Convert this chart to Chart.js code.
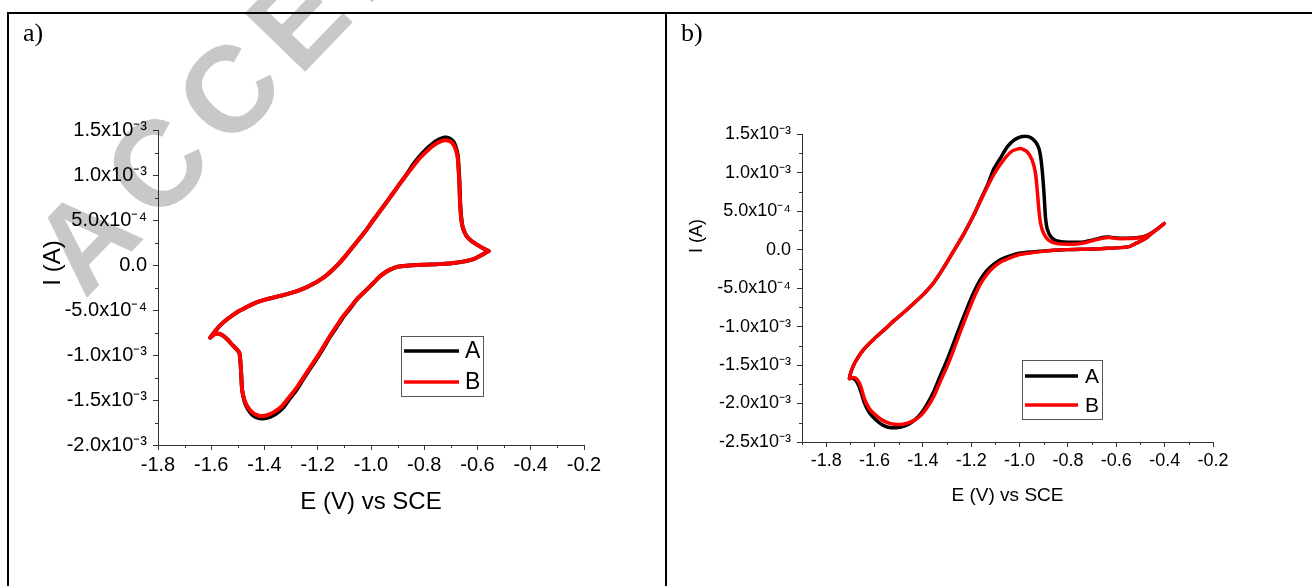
<!DOCTYPE html>
<html>
<head>
<meta charset="utf-8">
<script src="https://cdn.jsdelivr.net/npm/chart.js@4.4.1/dist/chart.umd.min.js"></script>
<style>
  html, body { margin: 0; padding: 0; background: #fff; }
  #page { position: relative; width: 1312px; height: 586px; overflow: hidden; }
  canvas { position: absolute; top: 0; }
  #cvA { left: 0; }
  #cvB { left: 667px; }
  .rule { position: absolute; background: #000; z-index: 2; }
</style>
</head>
<body>
<div id="page">
  <canvas id="cvA" width="665" height="586"></canvas>
  <canvas id="cvB" width="645" height="586"></canvas>
  <div class="rule" style="left:7px;top:12px;width:1305px;height:2px"></div>
  <div class="rule" style="left:7px;top:12px;width:2px;height:574px"></div>
  <div class="rule" style="left:665px;top:12px;width:2px;height:574px"></div>
</div>
<script>
// ---- panel a) : potential (V) and current (A) ----
// one loop: right vertex -> lower branch -> left vertex -> upper branch
const aE = [
  -0.558, -0.618, -0.681, -0.743, -0.806, -0.868, -0.899, -0.924, -0.943, -0.968,
  -0.993, -1.018, -1.050, -1.081, -1.106, -1.131, -1.156, -1.181, -1.206, -1.231,
  -1.256, -1.281, -1.306, -1.331, -1.356, -1.381, -1.406, -1.425, -1.444, -1.462,
  -1.475, -1.484, -1.487, -1.490, -1.494, -1.504, -1.519, -1.537, -1.556, -1.571,
  -1.587, -1.604,
  -1.587, -1.569, -1.544, -1.519, -1.494, -1.469, -1.444, -1.419, -1.394, -1.369,
  -1.344, -1.318, -1.293, -1.268, -1.243, -1.218, -1.193, -1.168, -1.143, -1.118,
  -1.093, -1.068, -1.043, -1.018, -0.993, -0.968, -0.943, -0.918, -0.893, -0.868,
  -0.843, -0.818, -0.793, -0.768, -0.743, -0.724, -0.706, -0.691, -0.681, -0.674,
  -0.671, -0.668, -0.666, -0.662, -0.656, -0.643, -0.624, -0.599, -0.574, -0.558
];
const aIA = [
  0.156e-3, 0.063e-3, 0.026e-3, 0.011e-3, 0.004e-3, -0.007e-3, -0.019e-3, -0.044e-3, -0.074e-3, -0.130e-3,
  -0.204e-3, -0.278e-3, -0.370e-3, -0.490e-3, -0.585e-3, -0.697e-3, -0.808e-3, -0.932e-3, -1.050e-3, -1.160e-3,
  -1.275e-3, -1.392e-3, -1.487e-3, -1.588e-3, -1.652e-3, -1.690e-3, -1.706e-3, -1.699e-3, -1.668e-3, -1.603e-3,
  -1.515e-3, -1.389e-3, -1.241e-3, -1.093e-3, -0.981e-3, -0.937e-3, -0.893e-3, -0.833e-3, -0.785e-3, -0.763e-3,
  -0.767e-3, -0.807e-3,
  -0.741e-3, -0.678e-3, -0.611e-3, -0.556e-3, -0.507e-3, -0.470e-3, -0.433e-3, -0.404e-3, -0.381e-3, -0.363e-3,
  -0.344e-3, -0.326e-3, -0.304e-3, -0.278e-3, -0.248e-3, -0.211e-3, -0.167e-3, -0.115e-3, -0.048e-3, 0.026e-3,
  0.111e-3, 0.204e-3, 0.296e-3, 0.389e-3, 0.493e-3, 0.593e-3, 0.693e-3, 0.796e-3, 0.900e-3, 1.000e-3,
  1.115e-3, 1.208e-3, 1.286e-3, 1.352e-3, 1.398e-3, 1.419e-3, 1.411e-3, 1.374e-3, 1.307e-3, 1.220e-3,
  1.095e-3, 0.945e-3, 0.755e-3, 0.560e-3, 0.426e-3, 0.333e-3, 0.270e-3, 0.222e-3, 0.178e-3, 0.156e-3
];
const aIB = [
  0.156e-3, 0.063e-3, 0.026e-3, 0.011e-3, 0.004e-3, -0.007e-3, -0.019e-3, -0.044e-3, -0.074e-3, -0.130e-3,
  -0.204e-3, -0.278e-3, -0.370e-3, -0.481e-3, -0.574e-3, -0.685e-3, -0.796e-3, -0.919e-3, -1.037e-3, -1.148e-3,
  -1.259e-3, -1.370e-3, -1.463e-3, -1.556e-3, -1.619e-3, -1.659e-3, -1.678e-3, -1.670e-3, -1.641e-3, -1.581e-3,
  -1.500e-3, -1.389e-3, -1.241e-3, -1.093e-3, -0.981e-3, -0.937e-3, -0.893e-3, -0.833e-3, -0.785e-3, -0.763e-3,
  -0.767e-3, -0.807e-3,
  -0.741e-3, -0.678e-3, -0.611e-3, -0.556e-3, -0.507e-3, -0.470e-3, -0.433e-3, -0.404e-3, -0.381e-3, -0.363e-3,
  -0.344e-3, -0.326e-3, -0.304e-3, -0.278e-3, -0.248e-3, -0.211e-3, -0.167e-3, -0.115e-3, -0.048e-3, 0.026e-3,
  0.111e-3, 0.204e-3, 0.296e-3, 0.389e-3, 0.493e-3, 0.593e-3, 0.693e-3, 0.796e-3, 0.900e-3, 1.000e-3,
  1.093e-3, 1.185e-3, 1.259e-3, 1.326e-3, 1.370e-3, 1.389e-3, 1.381e-3, 1.344e-3, 1.278e-3, 1.185e-3,
  1.056e-3, 0.907e-3, 0.722e-3, 0.537e-3, 0.426e-3, 0.333e-3, 0.270e-3, 0.222e-3, 0.178e-3, 0.156e-3
];

// ---- panel b) ----
const bEA = [
  -0.402, -0.446, -0.480, -0.515, -0.542, -0.584, -0.638, -0.693, -0.748, -0.803,
  -0.858, -0.913, -0.955, -0.996, -1.037, -1.078, -1.106, -1.133, -1.161, -1.188,
  -1.216, -1.243, -1.271, -1.298, -1.326, -1.353, -1.381, -1.408, -1.436, -1.463,
  -1.491, -1.532, -1.566, -1.594, -1.621, -1.642, -1.656, -1.667, -1.680, -1.694,
  -1.704,
  -1.690, -1.669, -1.642, -1.601, -1.559, -1.518, -1.477, -1.436, -1.395, -1.353,
  -1.312, -1.271, -1.230, -1.188, -1.161, -1.133, -1.106, -1.078, -1.051, -1.023,
  -0.996, -0.975, -0.955, -0.934, -0.920, -0.911, -0.904, -0.898, -0.893, -0.886,
  -0.872, -0.852, -0.817, -0.776, -0.735, -0.693, -0.652, -0.625, -0.597, -0.556,
  -0.515, -0.480, -0.446, -0.402
];
const bIA = [
  0.338e-3, 0.230e-3, 0.143e-3, 0.087e-3, 0.043e-3, 0.026e-3, 0.017e-3, 0.009e-3, 0.004e-3, 0.000,
  -0.009e-3, -0.020e-3, -0.030e-3, -0.045e-3, -0.080e-3, -0.130e-3, -0.188e-3, -0.265e-3, -0.385e-3, -0.545e-3,
  -0.750e-3, -0.965e-3, -1.200e-3, -1.420e-3, -1.625e-3, -1.830e-3, -2.000e-3, -2.130e-3, -2.220e-3, -2.275e-3,
  -2.305e-3, -2.315e-3, -2.280e-3, -2.215e-3, -2.120e-3, -1.990e-3, -1.850e-3, -1.755e-3, -1.690e-3, -1.668e-3,
  -1.677e-3,
  -1.526e-3, -1.404e-3, -1.287e-3, -1.157e-3, -1.040e-3, -0.919e-3, -0.811e-3, -0.694e-3, -0.572e-3, -0.420e-3,
  -0.225e-3, -0.009e-3, 0.208e-3, 0.459e-3, 0.650e-3, 0.837e-3, 1.053e-3, 1.196e-3, 1.335e-3, 1.422e-3,
  1.465e-3, 1.474e-3, 1.456e-3, 1.400e-3, 1.313e-3, 1.162e-3, 0.945e-3, 0.685e-3, 0.425e-3, 0.273e-3,
  0.173e-3, 0.121e-3, 0.100e-3, 0.095e-3, 0.100e-3, 0.128e-3, 0.160e-3, 0.162e-3, 0.150e-3, 0.148e-3,
  0.155e-3, 0.176e-3, 0.232e-3, 0.338e-3
];
const bEB = [
  -0.402, -0.446, -0.480, -0.515, -0.542, -0.584, -0.638, -0.693, -0.748, -0.803,
  -0.858, -0.913, -0.955, -0.996, -1.037, -1.078, -1.106, -1.133, -1.161, -1.188,
  -1.216, -1.243, -1.271, -1.298, -1.326, -1.353, -1.381, -1.408, -1.436, -1.463,
  -1.491, -1.532, -1.566, -1.594, -1.621, -1.642, -1.656, -1.667, -1.680, -1.694,
  -1.704,
  -1.690, -1.669, -1.642, -1.601, -1.559, -1.518, -1.477, -1.436, -1.395, -1.353,
  -1.312, -1.271, -1.230, -1.188, -1.147, -1.106, -1.065, -1.030, -0.996, -0.968,
  -0.948, -0.934, -0.927, -0.920, -0.913, -0.900, -0.879, -0.845, -0.790, -0.735,
  -0.693, -0.652, -0.625, -0.597, -0.556, -0.515, -0.480, -0.446, -0.402
];
const bIB = [
  0.338e-3, 0.230e-3, 0.143e-3, 0.087e-3, 0.043e-3, 0.026e-3, 0.017e-3, 0.009e-3, 0.004e-3, 0.000,
  -0.009e-3, -0.026e-3, -0.043e-3, -0.061e-3, -0.104e-3, -0.160e-3, -0.225e-3, -0.312e-3, -0.442e-3, -0.616e-3,
  -0.832e-3, -1.049e-3, -1.287e-3, -1.504e-3, -1.699e-3, -1.894e-3, -2.046e-3, -2.154e-3, -2.219e-3, -2.254e-3,
  -2.271e-3, -2.263e-3, -2.219e-3, -2.154e-3, -2.068e-3, -1.938e-3, -1.786e-3, -1.708e-3, -1.665e-3, -1.665e-3,
  -1.677e-3,
  -1.526e-3, -1.404e-3, -1.287e-3, -1.157e-3, -1.040e-3, -0.919e-3, -0.811e-3, -0.694e-3, -0.572e-3, -0.420e-3,
  -0.225e-3, -0.009e-3, 0.208e-3, 0.459e-3, 0.728e-3, 0.980e-3, 1.170e-3, 1.283e-3, 1.313e-3, 1.270e-3,
  1.162e-3, 0.988e-3, 0.772e-3, 0.511e-3, 0.338e-3, 0.208e-3, 0.121e-3, 0.078e-3, 0.069e-3, 0.087e-3,
  0.121e-3, 0.152e-3, 0.156e-3, 0.143e-3, 0.143e-3, 0.152e-3, 0.173e-3, 0.230e-3, 0.338e-3
];

// ---- ticks and names ----
const seriesNames = ['A', 'B'];
const xTicks = [-1.8, -1.6, -1.4, -1.2, -1.0, -0.8, -0.6, -0.4, -0.2];
const aYTicks = [-2.0e-3, -1.5e-3, -1.0e-3, -5.0e-4, 0, 5.0e-4, 1.0e-3, 1.5e-3];
const aYLabels = ['-2.0x10⁻³', '-1.5x10⁻³', '-1.0x10⁻³', '-5.0x10⁻⁴', '0.0', '5.0x10⁻⁴', '1.0x10⁻³', '1.5x10⁻³'];
const bYTicks = [-2.5e-3, -2.0e-3, -1.5e-3, -1.0e-3, -5.0e-4, 0, 5.0e-4, 1.0e-3, 1.5e-3];
const bYLabels = ['-2.5x10⁻³', '-2.0x10⁻³', '-1.5x10⁻³', '-1.0x10⁻³', '-5.0x10⁻⁴', '0.0', '5.0x10⁻⁴', '1.0x10⁻³', '1.5x10⁻³'];

const SANS = "'Liberation Sans', Arial, sans-serif";
const AXIS = '#333';

function pts(E, I) {
  return E.map((e, i) => ({ x: e, y: I[i] }));
}

// short unlabeled ticks between the major ones
const minorTicks = {
  id: 'minorTicks',
  afterDraw(chart, args, o) {
    const ctx = chart.ctx;
    ctx.save();
    ctx.strokeStyle = AXIS;
    ctx.lineWidth = 1;
    for (const id of ['x', 'y']) {
      const s = chart.scales[id];
      const step = o[id];
      const majors = s.ticks.map(t => t.value);
      const n = Math.round((s.max - s.min) / step);
      for (let k = 0; k <= n; k++) {
        const v = s.min + k * step;
        if (majors.some(m => Math.abs(m - v) < step / 10)) continue;
        const p = Math.round(s.getPixelForValue(v)) + 0.5;
        ctx.beginPath();
        if (id === 'x') { ctx.moveTo(p, s.top); ctx.lineTo(p, s.top + o.len); }
        else { ctx.moveTo(s.right, p); ctx.lineTo(s.right - o.len, p); }
        ctx.stroke();
      }
    }
    ctx.restore();
  }
};

// y axis title, placed where the original has it
const sideTitle = {
  id: 'sideTitle',
  afterDraw(chart, args, o) {
    const ctx = chart.ctx;
    ctx.save();
    ctx.translate(o.x, o.y);
    ctx.rotate(-Math.PI / 2);
    ctx.font = o.font;
    ctx.fillStyle = '#000';
    ctx.textAlign = 'center';
    ctx.textBaseline = 'middle';
    ctx.fillText(o.text, 0, 0);
    ctx.restore();
  }
};

// framed legend inside the plot
const boxLegend = {
  id: 'boxLegend',
  afterDraw(chart, args, o) {
    const ctx = chart.ctx;
    ctx.save();
    ctx.fillStyle = '#fff';
    ctx.fillRect(o.x, o.y, o.w, o.h);
    ctx.strokeStyle = '#555';
    ctx.lineWidth = 1;
    ctx.strokeRect(o.x + 0.5, o.y + 0.5, o.w, o.h);
    ctx.font = o.font;
    ctx.textBaseline = 'middle';
    ctx.textAlign = 'left';
    chart.data.datasets.forEach((ds, i) => {
      const y = o.y + o.first + i * o.gap;
      ctx.strokeStyle = ds.borderColor;
      ctx.lineWidth = o.lineWidth;
      ctx.beginPath();
      ctx.moveTo(o.x + 3, y);
      ctx.lineTo(o.x + 3 + o.len, y);
      ctx.stroke();
      ctx.fillStyle = '#000';
      ctx.fillText(ds.label, o.x + o.textX, y + 1);
    });
    ctx.restore();
  }
};

// grey diagonal watermark of the manuscript
const watermark = {
  id: 'watermark',
  beforeDraw(chart, args, o) {
    if (!o.text) return;
    const ctx = chart.ctx;
    ctx.save();
    ctx.translate(o.x, o.y);
    ctx.rotate(o.angle * Math.PI / 180);
    ctx.font = o.font;
    ctx.fillStyle = o.color;
    ctx.textBaseline = 'alphabetic';
    let x = -ctx.measureText(o.text[0]).width / 2;
    for (const ch of o.text) {
      ctx.fillText(ch, x, o.cap / 2);
      x += ctx.measureText(ch).width + o.spacing;
    }
    ctx.restore();
  }
};

function makeChart(id, c) {
  return new Chart(document.getElementById(id), {
    type: 'scatter',
    data: {
      datasets: [
        { label: seriesNames[0], data: c.A, borderColor: '#000000', order: 1 },
        { label: seriesNames[1], data: c.B, borderColor: '#ff0000', order: 0 }
      ]
    },
    options: {
      responsive: false,
      animation: false,
      devicePixelRatio: 1,
      showLine: true,
      layout: { padding: { left: c.padLeft, right: c.padRight, top: 0, bottom: 0 } },
      elements: {
        point: { radius: 0, hoverRadius: 0 },
        line: { borderWidth: c.lw, tension: 0.2, fill: false, borderJoinStyle: 'round', borderCapStyle: 'round' }
      },
      scales: {
        x: {
          type: 'linear',
          min: c.xMin,
          max: -0.2,
          afterBuildTicks: s => { s.ticks = xTicks.map(v => ({ value: v })); },
          afterFit: s => { s.height = c.xH; },
          ticks: {
            callback: v => v.toFixed(1),
            color: '#000',
            font: { family: SANS, size: c.tickSize },
            padding: 3,
            maxRotation: 0,
            autoSkip: false
          },
          grid: { drawOnChartArea: false, tickLength: 5, tickColor: AXIS },
          border: { color: AXIS, width: 1 },
          title: {
            display: true,
            text: 'E (V) vs SCE',
            color: '#000',
            font: { family: SANS, size: c.titleSize },
            padding: { top: 0, bottom: c.xTitlePad }
          }
        },
        y: {
          type: 'linear',
          min: c.yMin,
          max: 1.5e-3,
          afterBuildTicks: s => { s.ticks = c.yTicks.map(v => ({ value: v })); },
          afterFit: s => { s.width = c.yW; },
          ticks: {
            callback: (v, i) => c.yLabels[i],
            color: '#000',
            font: { family: SANS, size: c.tickSize },
            padding: 6,
            autoSkip: false
          },
          grid: { drawOnChartArea: false, tickLength: 5, tickColor: AXIS },
          border: { color: AXIS, width: 1 }
        }
      },
      plugins: {
        legend: { display: false },
        tooltip: { enabled: false },
        title: {
          display: true,
          text: c.tag,
          align: 'start',
          color: '#000',
          font: { family: "'Liberation Serif', 'Times New Roman', serif", size: 26, weight: 'normal' },
          padding: { top: 19, bottom: c.titleBottom }
        },
        minorTicks: { x: 0.1, y: 2.5e-4, len: 3 },
        sideTitle: c.yTitle,
        boxLegend: c.legend,
        watermark: c.mark || {}
      }
    },
    plugins: [watermark, minorTicks, sideTitle, boxLegend]
  });
}

makeChart('cvA', {
  tag: 'a)',
  A: pts(aE, aIA), B: pts(aE, aIB),
  xMin: -1.8, yMin: -2.0e-3,
  yTicks: aYTicks, yLabels: aYLabels,
  padLeft: 23, padRight: 81, yW: 135, xH: 141,
  titleBottom: 80, tickSize: 20, titleSize: 24, xTitlePad: 69, lw: 4,
  yTitle: { text: 'I (A)', x: 53, y: 263, font: '24px ' + SANS },
  legend: { x: 401, y: 336, w: 82, h: 60, first: 15, gap: 31, len: 55, textX: 64, lineWidth: 3.5, font: '23px ' + SANS },
  mark: { text: 'ACCEPTED MANUSCRIPT', x: 84, y: 238, angle: -46, font: 'bold 122px ' + SANS, color: '#c8c8c8', spacing: 15, cap: 87 }
});

makeChart('cvB', {
  tag: 'b)',
  A: pts(bEA, bIA), B: pts(bEB, bIB),
  xMin: -1.9, yMin: -2.5e-3,
  yTicks: bYTicks, yLabels: bYLabels,
  padLeft: 14, padRight: 99, yW: 121, xH: 144,
  titleBottom: 84, tickSize: 18, titleSize: 19, xTitlePad: 79, lw: 3.5,
  yTitle: { text: 'I (A)', x: 30, y: 236, font: '18px ' + SANS },
  legend: { x: 355, y: 360, w: 80, h: 59, first: 16, gap: 29, len: 53, textX: 63, lineWidth: 3.5, font: '21px ' + SANS }
});
</script>
</body>
</html>
